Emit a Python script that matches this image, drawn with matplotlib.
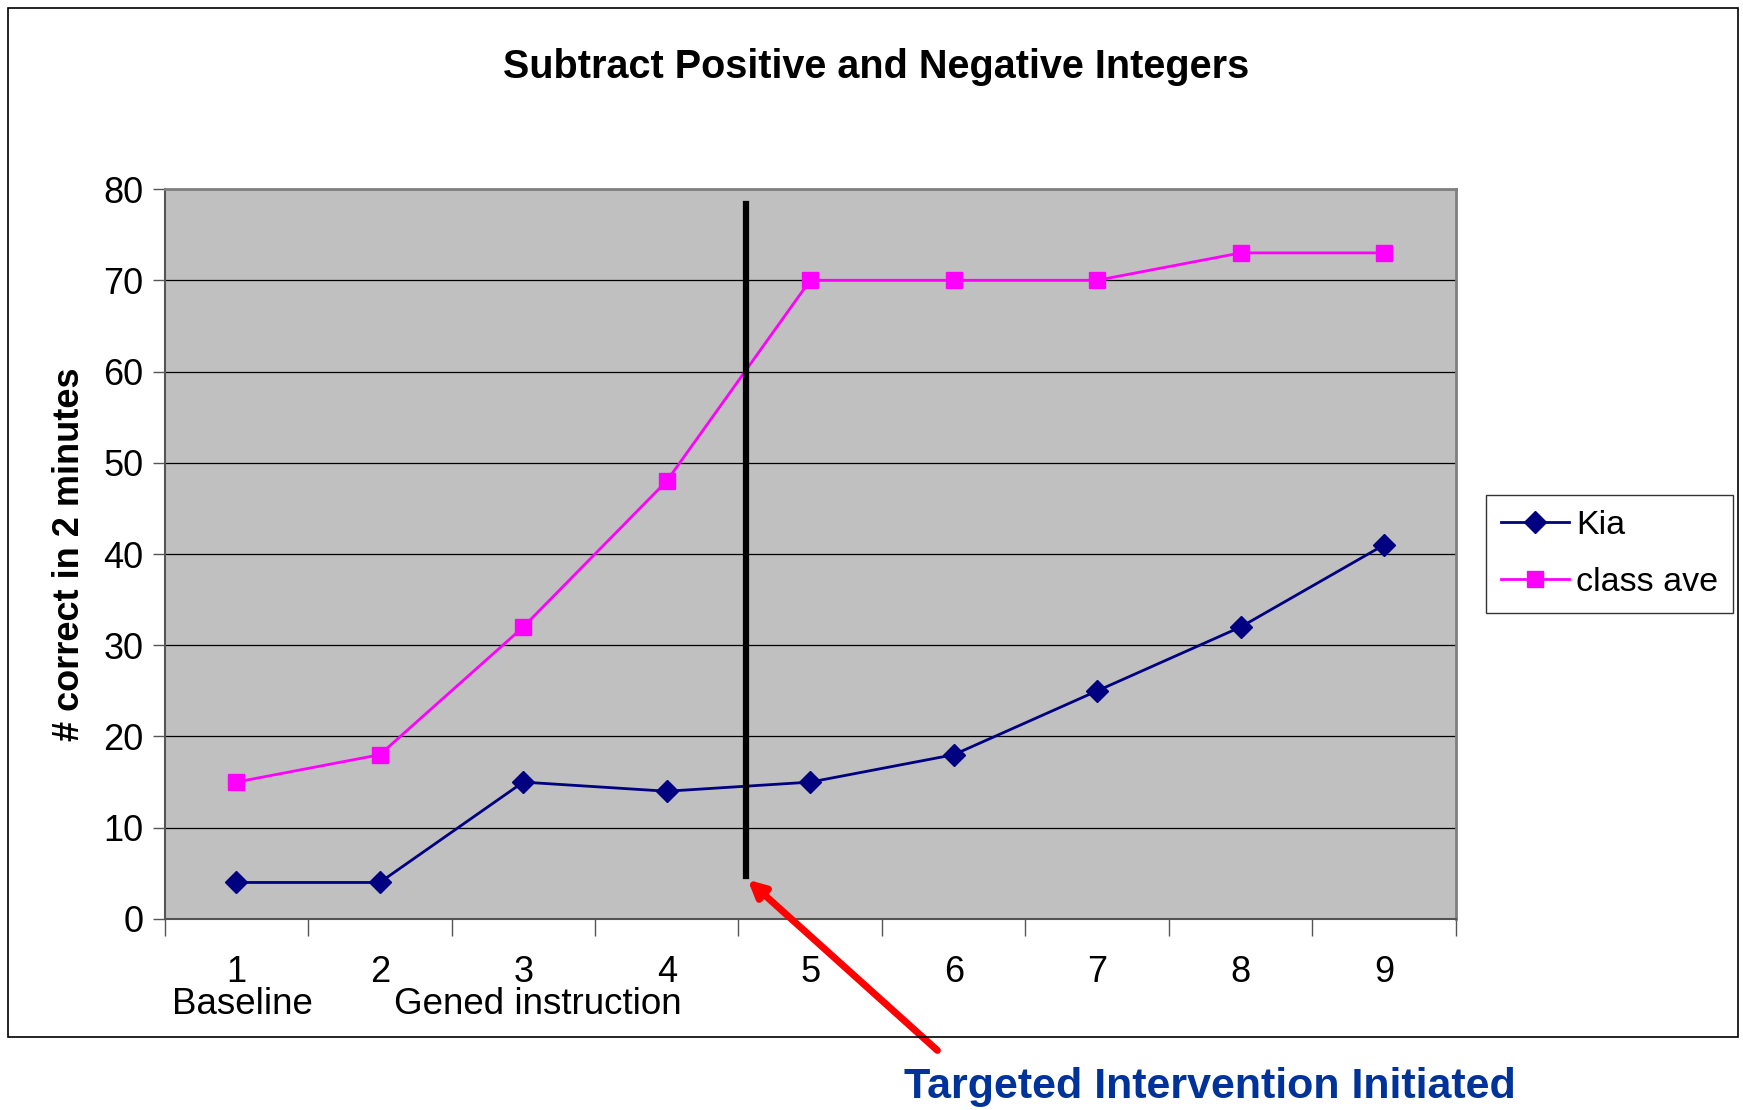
"""Subtract positive and negative integers: Kia vs class average."""

import matplotlib.pyplot as plt
from matplotlib.patches import Rectangle

plt.rcParams["font.family"] = ["Liberation Sans", "DejaVu Sans"]

sessions = [1, 2, 3, 4, 5, 6, 7, 8, 9]
kia = [4, 4, 15, 14, 15, 18, 25, 32, 41]
class_ave = [15, 18, 32, 48, 70, 70, 70, 73, 73]
y_ticks = [0, 10, 20, 30, 40, 50, 60, 70, 80]
phase_labels = [(1.04, "Baseline"), (3.1, "Gened instruction")]
intervention_x = 4.55

fig = plt.figure(figsize=(17.43, 11.10), dpi=100)
ax = fig.add_axes([0.0944, 0.1721, 0.7409, 0.6576])

# outer chart border
fig.patches.append(Rectangle((0.0045, 0.0658), 0.9925, 0.927, transform=fig.transFigure,
                             fill=False, edgecolor="black", linewidth=1.2))

ax.set_facecolor("#C0C0C0")
ax.plot(sessions, kia, color="#000080", lw=2, marker="D", ms=11, label="Kia")
ax.plot(sessions, class_ave, color="#FF00FF", lw=2, marker="s", ms=11.5, label="class ave")

ax.set_xlim(0.5, 9.5)
ax.set_ylim(0, 80)
ax.set_yticks(y_ticks)
ax.yaxis.grid(True, color="black", lw=0.9)
ax.set_axisbelow(True)
ax.tick_params(axis="y", labelsize=26, length=9, width=1, color="#555555", pad=6)

# Excel-style category axis: ticks between categories, labels centred
ax.set_xticks([i + 0.5 for i in range(0, 10)])
ax.set_xticklabels([])
ax.set_xticks(sessions, minor=True)
ax.set_xticklabels([str(s) for s in sessions], minor=True)
ax.tick_params(axis="x", which="major", length=12, width=1, color="#555555")
ax.tick_params(axis="x", which="minor", length=0, labelsize=26, pad=26)

for side in ["left", "bottom"]:
    ax.spines[side].set_color("#555555")
    ax.spines[side].set_linewidth(1.5)
for side in ["top", "right"]:
    ax.spines[side].set_color("#808080")
    ax.spines[side].set_linewidth(2)

for xpos, txt in phase_labels:
    ax.text(xpos, -9.4, txt, ha="center", va="center", fontsize=26.5, clip_on=False)

ax.set_ylabel("# correct in 2 minutes", fontsize=26, fontweight="bold", labelpad=12)
fig.text(0.5026, 0.94, "Subtract Positive and Negative Integers", ha="center",
         va="center", fontsize=28.5, fontweight="bold")

# intervention line and callout
ax.plot([intervention_x, intervention_x], [4.7, 78.4], color="black", lw=4.5)
ax.annotate("", xy=(intervention_x, 4.5), xycoords="data",
            xytext=(0.539, 0.052), textcoords="figure fraction",
            arrowprops=dict(arrowstyle="-|>,head_length=1.0,head_width=0.5",
                            color="#FF0000", lw=5))
fig.text(0.694, 0.021, "Targeted Intervention Initiated", ha="center", va="center",
         fontsize=31, fontweight="bold", color="#003399")

leg = ax.legend(loc="center left", bbox_to_anchor=(1.023, 0.5), fontsize=24.5,
                frameon=True, fancybox=False, edgecolor="black", handlelength=2.0,
                labelspacing=0.75, borderpad=0.45, handletextpad=0.2,
                borderaxespad=0)
leg.get_frame().set_linewidth(1)

fig.savefig("out.png", dpi=100)
